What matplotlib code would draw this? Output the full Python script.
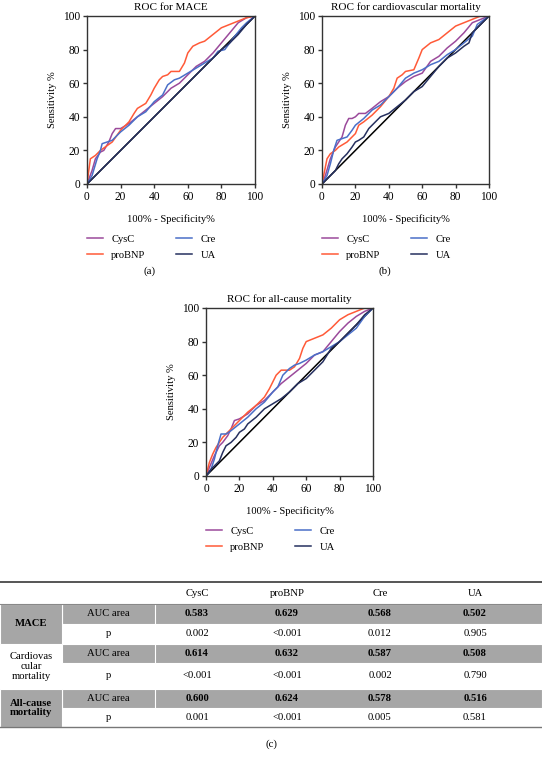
import matplotlib
matplotlib.use('Agg')
import matplotlib.pyplot as plt
from matplotlib.patches import Rectangle

plt.rcParams['font.family'] = ['Liberation Serif', 'DejaVu Serif']

# ROC curve points (100% - specificity, sensitivity)
# (a) MACE
mace_cysc_x = [0, 3, 5, 8, 10, 13, 15, 17, 20, 25, 30, 35, 40, 45, 50, 55, 60, 65, 70, 75, 80, 85, 90, 95, 100]
mace_cysc_y = [0, 8, 15, 19, 20, 25, 30, 33, 33, 36, 40, 44, 48, 52, 57, 60, 65, 70, 73, 78, 84, 90, 96, 99, 100]
mace_bnp_x = [0, 2, 5, 8, 15, 20, 25, 28, 30, 35, 38, 40, 43, 45, 48, 50, 55, 58, 60, 63, 67, 70, 75, 80, 85, 90, 95, 100]
mace_bnp_y = [0, 15, 17, 20, 25, 32, 37, 42, 45, 48, 53, 57, 62, 64, 65, 67, 67, 72, 78, 82, 84, 85, 89, 93, 95, 97, 99, 100]
mace_cre_x = [0, 3, 6, 8, 9, 12, 15, 20, 25, 30, 35, 40, 45, 48, 52, 55, 60, 65, 70, 75, 78, 82, 85, 88, 92, 95, 100]
mace_cre_y = [0, 5, 15, 20, 24, 25, 26, 31, 35, 40, 43, 49, 53, 59, 62, 63, 66, 69, 72, 75, 79, 80, 84, 88, 93, 96, 100]
mace_ua_x = [0, 5, 10, 20, 30, 40, 50, 60, 70, 80, 85, 90, 95, 100]
mace_ua_y = [0, 5, 10, 20, 30, 40, 50, 60, 70, 80, 84, 89, 95, 100]

# (b) cardiovascular mortality
cv_cysc_x = [0, 2, 5, 8, 10, 12, 14, 16, 18, 20, 22, 26, 30, 35, 40, 45, 50, 55, 60, 65, 70, 75, 80, 85, 90, 95, 100]
cv_cysc_y = [0, 5, 15, 22, 25, 28, 35, 39, 39, 40, 42, 42, 45, 49, 52, 57, 61, 64, 66, 73, 76, 81, 85, 90, 96, 98, 100]
cv_bnp_x = [0, 2, 3, 5, 8, 10, 15, 20, 22, 25, 30, 35, 40, 43, 45, 48, 50, 55, 58, 60, 65, 70, 75, 80, 85, 90, 95, 100]
cv_bnp_y = [0, 10, 15, 18, 20, 22, 25, 30, 35, 37, 41, 46, 52, 57, 63, 65, 67, 68, 75, 80, 84, 86, 90, 94, 96, 98, 100, 100]
cv_cre_x = [0, 3, 5, 7, 9, 12, 15, 18, 20, 25, 30, 35, 40, 45, 50, 55, 60, 65, 70, 75, 80, 85, 90, 93, 100]
cv_cre_y = [0, 5, 12, 20, 26, 27, 28, 32, 35, 39, 44, 47, 52, 57, 63, 66, 68, 71, 73, 77, 80, 84, 88, 95, 100]
cv_ua_x = [0, 3, 5, 8, 10, 12, 15, 18, 20, 22, 25, 28, 30, 35, 40, 45, 50, 55, 60, 65, 70, 75, 80, 85, 88, 90, 95, 100]
cv_ua_y = [0, 3, 5, 8, 12, 15, 18, 22, 25, 26, 28, 33, 35, 40, 42, 46, 50, 55, 58, 64, 70, 75, 78, 82, 84, 90, 95, 100]

# (c) all-cause mortality
all_cysc_x = [0, 2, 5, 8, 10, 13, 15, 17, 20, 25, 30, 35, 40, 45, 50, 55, 60, 65, 70, 75, 80, 85, 90, 95, 100]
all_cysc_y = [0, 5, 12, 18, 20, 24, 28, 33, 34, 37, 42, 45, 50, 55, 59, 63, 67, 72, 74, 80, 86, 91, 95, 98, 100]
all_bnp_x = [0, 2, 4, 6, 8, 10, 15, 20, 25, 30, 35, 38, 40, 42, 45, 50, 53, 56, 58, 60, 65, 70, 75, 80, 85, 90, 95, 100]
all_bnp_y = [0, 8, 13, 17, 20, 23, 28, 33, 38, 42, 47, 52, 56, 60, 63, 63, 65, 70, 76, 80, 82, 84, 88, 93, 96, 98, 100, 100]
all_cre_x = [0, 3, 5, 7, 9, 12, 15, 20, 25, 30, 35, 40, 43, 46, 50, 53, 56, 60, 65, 70, 75, 80, 85, 90, 95, 100]
all_cre_y = [0, 4, 10, 18, 25, 25, 27, 31, 35, 40, 44, 50, 53, 60, 64, 66, 67, 69, 72, 74, 77, 80, 84, 88, 95, 100]
all_ua_x = [0, 3, 5, 8, 10, 12, 15, 18, 20, 23, 25, 30, 35, 40, 45, 50, 55, 60, 65, 70, 75, 80, 85, 90, 95, 100]
all_ua_y = [0, 4, 6, 9, 14, 18, 20, 23, 26, 28, 31, 35, 40, 43, 46, 50, 55, 58, 63, 68, 76, 80, 85, 90, 96, 100]

markers = ['CysC', 'proBNP', 'Cre', 'UA']
colors = ['#9b4a9b', '#ff5a38', '#4a6fc8', '#26305f']

# table (c)
row_groups = ['MACE', 'Cardiovas\ncular\nmortality', 'All-cause\nmortality']
mace_auc = ['0.583', '0.629', '0.568', '0.502']
mace_p = ['0.002', '<0.001', '0.012', '0.905']
cv_auc = ['0.614', '0.632', '0.587', '0.508']
cv_p = ['<0.001', '<0.001', '0.002', '0.790']
all_auc = ['0.600', '0.624', '0.578', '0.516']
all_p = ['0.001', '<0.001', '0.005', '0.581']

W, H = 542, 765
fig = plt.figure(figsize=(W / 100, H / 100), dpi=100)


def px_axes(left, top, right, bottom):
    return fig.add_axes([left / W, 1 - bottom / H, (right - left) / W, (bottom - top) / H])


def roc_panel(ax, title, curves, leg_y):
    ax.plot([0, 100], [0, 100], color='black', lw=1.1, zorder=1)
    for (x, y), name, c in zip(curves, markers, colors):
        ax.plot(x, y, color=c, lw=1.1, label=name, zorder=2)
    ax.set_xlim(0, 100)
    ax.set_ylim(0, 100)
    ax.set_xticks(range(0, 101, 20))
    ax.set_yticks(range(0, 101, 20))
    for s in ax.spines.values():
        s.set_color('#333333')
        s.set_linewidth(1.0)
    ax.tick_params(direction='out', length=3, width=1, color='#333333',
                   labelsize=8.3, pad=2)
    ax.set_title(title, fontsize=8, pad=4)
    ax.set_xlabel('100% - Specificity%', fontsize=7.6, labelpad=8)
    ax.set_ylabel('Sensitivity %', fontsize=7.6, labelpad=4)
    ax.legend(loc='upper left', bbox_to_anchor=(0, leg_y), ncol=2, frameon=False,
              fontsize=7.6, borderpad=0, handlelength=1.5, handletextpad=0.8,
              columnspacing=2.9, labelspacing=0.6, borderaxespad=0)


ax_a = px_axes(87, 16, 255, 184)
roc_panel(ax_a, 'ROC for MACE',
          [(mace_cysc_x, mace_cysc_y), (mace_bnp_x, mace_bnp_y),
           (mace_cre_x, mace_cre_y), (mace_ua_x, mace_ua_y)], -0.30)

ax_b = px_axes(322, 16, 489, 184)
roc_panel(ax_b, 'ROC for cardiovascular mortality',
          [(cv_cysc_x, cv_cysc_y), (cv_bnp_x, cv_bnp_y),
           (cv_cre_x, cv_cre_y), (cv_ua_x, cv_ua_y)], -0.30)

ax_c = px_axes(206, 308, 373, 476)
roc_panel(ax_c, 'ROC for all-cause mortality',
          [(all_cysc_x, all_cysc_y), (all_bnp_x, all_bnp_y),
           (all_cre_x, all_cre_y), (all_ua_x, all_ua_y)], -0.30)

fig.text(150 / W, 1 - 271 / H, '(a)', ha='center', va='center', fontsize=7.8)
fig.text(385 / W, 1 - 271 / H, '(b)', ha='center', va='center', fontsize=7.8)
fig.text(271 / W, 1 - 744 / H, '(c)', ha='center', va='center', fontsize=7.8)

# table drawn in pixel units
tab = fig.add_axes([0, 0, 1, 1])
tab.set_xlim(0, W)
tab.set_ylim(H, 0)
tab.axis('off')

gray = '#a6a6a6'
rows = [582, 604, 624, 644, 663, 689, 708, 727]
col_x = [0, 62, 155, 542]
val_cx = [197, 287, 380, 475]

# gray fills for AUC rows (columns 2 onward) and the shaded group labels
for r in (1, 3, 5):
    tab.add_patch(Rectangle((col_x[1], rows[r]), W - col_x[1], rows[r + 1] - rows[r],
                            facecolor=gray, edgecolor='white', lw=0.8))
    tab.plot([col_x[2], col_x[2]], [rows[r], rows[r + 1]], color='white', lw=0.8)
for r in (1, 5):
    tab.add_patch(Rectangle((0, rows[r]), col_x[1], rows[r + 2] - rows[r],
                            facecolor=gray, edgecolor='white', lw=0.8))

tab.plot([0, W], [rows[0], rows[0]], color='#555555', lw=1.4)
tab.plot([0, W], [rows[1], rows[1]], color='#888888', lw=0.8)
tab.plot([0, W], [rows[-1], rows[-1]], color='#777777', lw=1.0)

fs = 7.7
hdr_y = (rows[0] + rows[1]) / 2
for name, cx in zip(markers, val_cx):
    tab.text(cx, hdr_y, name, ha='center', va='center', fontsize=fs)

body = [mace_auc, mace_p, cv_auc, cv_p, all_auc, all_p]
for i, vals in enumerate(body):
    cy = (rows[i + 1] + rows[i + 2]) / 2
    is_auc = i % 2 == 0
    tab.text((col_x[1] + col_x[2]) / 2, cy, 'AUC area' if is_auc else 'p',
             ha='center', va='center', fontsize=fs)
    for v, cx in zip(vals, val_cx):
        tab.text(cx, cy, v, ha='center', va='center', fontsize=fs,
                 fontweight='bold' if is_auc else 'normal')

for g, label in enumerate(row_groups):
    cy = (rows[2 * g + 1] + rows[2 * g + 3]) / 2
    tab.text(col_x[1] / 2, cy, label, ha='center', va='center', fontsize=fs,
             linespacing=1.1, fontweight='bold' if g != 1 else 'normal')

fig.savefig('out.png', dpi=100)
